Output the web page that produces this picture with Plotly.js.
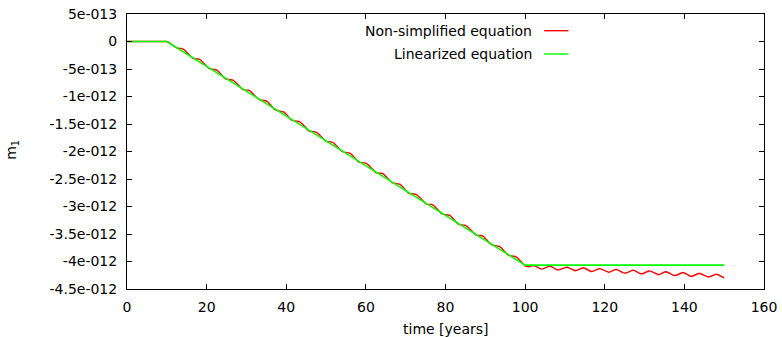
<!DOCTYPE html>
<html>
<head>
<meta charset="utf-8">
<script src="https://cdn.plot.ly/plotly-3.0.1.min.js"></script>
<style>html,body{margin:0;padding:0;background:#fff;}#chart{width:782px;height:337px;}</style>
</head>
<body>
<div id="chart"></div>
<script>
// values in units of 1e-12
const timeGrid = [0];
for (let i = 0; i <= 280; i++) timeGrid.push(10 + 0.5 * i);

const nonSimplified = [0,
 0.000,-0.015,-0.036,-0.068,-0.099,-0.120,-0.126,-0.126,-0.135,-0.158,
 -0.196,-0.240,-0.280,-0.305,-0.313,-0.314,-0.318,-0.336,-0.370,-0.413,
 -0.456,-0.486,-0.501,-0.503,-0.505,-0.517,-0.545,-0.586,-0.630,-0.666,
 -0.686,-0.692,-0.693,-0.699,-0.722,-0.759,-0.804,-0.844,-0.869,-0.880,
 -0.880,-0.884,-0.901,-0.933,-0.977,-1.019,-1.051,-1.066,-1.069,-1.071,
 -1.081,-1.109,-1.149,-1.193,-1.231,-1.251,-1.258,-1.258,-1.265,-1.285,
 -1.322,-1.367,-1.407,-1.435,-1.445,-1.447,-1.450,-1.465,-1.497,-1.539,
 -1.583,-1.615,-1.632,-1.636,-1.637,-1.647,-1.672,-1.712,-1.757,-1.794,
 -1.817,-1.824,-1.825,-1.830,-1.850,-1.886,-1.929,-1.971,-1.999,-2.012,
 -2.014,-2.016,-2.030,-2.059,-2.102,-2.145,-2.180,-2.198,-2.202,-2.203,
 -2.211,-2.236,-2.275,-2.319,-2.358,-2.382,-2.390,-2.391,-2.396,-2.414,
 -2.448,-2.492,-2.534,-2.564,-2.578,-2.580,-2.582,-2.594,-2.623,-2.664,
 -2.709,-2.744,-2.763,-2.769,-2.769,-2.777,-2.800,-2.838,-2.883,-2.921,
 -2.947,-2.956,-2.957,-2.962,-2.978,-3.012,-3.055,-3.098,-3.129,-3.143,
 -3.146,-3.147,-3.159,-3.186,-3.228,-3.272,-3.308,-3.329,-3.334,-3.335,
 -3.343,-3.364,-3.401,-3.445,-3.486,-3.511,-3.522,-3.524,-3.527,-3.543,
 -3.574,-3.618,-3.661,-3.693,-3.709,-3.712,-3.714,-3.724,-3.750,-3.791,
 -3.835,-3.872,-3.894,-3.901,-3.902,-3.908,-3.929,-3.966,-4.011,-4.053,
 -4.082,-4.094,-4.096,-4.078,-4.072,-4.081,-4.103,-4.126,-4.139,-4.134,
 -4.118,-4.098,-4.086,-4.090,-4.109,-4.133,-4.150,-4.152,-4.140,-4.119,
 -4.103,-4.102,-4.116,-4.138,-4.159,-4.168,-4.160,-4.141,-4.122,-4.115,
 -4.123,-4.144,-4.168,-4.181,-4.178,-4.163,-4.143,-4.131,-4.133,-4.150,
 -4.174,-4.192,-4.196,-4.184,-4.164,-4.147,-4.144,-4.157,-4.181,-4.201,
 -4.211,-4.205,-4.186,-4.167,-4.158,-4.166,-4.185,-4.209,-4.224,-4.222,
 -4.207,-4.187,-4.174,-4.175,-4.192,-4.216,-4.235,-4.239,-4.229,-4.209,
 -4.191,-4.187,-4.199,-4.222,-4.243,-4.254,-4.249,-4.231,-4.211,-4.201,
 -4.208,-4.227,-4.251,-4.267,-4.267,-4.252,-4.232,-4.218,-4.218,-4.233,
 -4.257,-4.277,-4.283,-4.273,-4.254,-4.236,-4.230,-4.241,-4.263,-4.285,
 -4.297];

const linYears = [0, 10, 100, 150];
const linearized = [0, 0, -4.065, -4.065];

const xTickVals = [0, 20, 40, 60, 80, 100, 120, 140, 160];
const yTickVals = [0.5, 0, -0.5, -1, -1.5, -2, -2.5, -3, -3.5, -4, -4.5];
const yTickText = ["5e-013", "0", "-5e-013", "-1e-012", "-1.5e-012", "-2e-012",
  "-2.5e-012", "-3e-012", "-3.5e-012", "-4e-012", "-4.5e-012"];

const seriesNames = ["Non-simplified equation", "Linearized equation"];
const seriesColors = ["#ff0000", "#00ff00"];

const FONT = {family: "DejaVu Sans", size: 14, color: "#000"};

const traces = [
  {x: timeGrid, y: nonSimplified, type: "scatter", mode: "lines", name: seriesNames[0],
   line: {color: seriesColors[0], width: 1.4}, showlegend: false, hoverinfo: "skip"},
  {x: linYears, y: linearized, type: "scatter", mode: "lines", name: seriesNames[1],
   line: {color: seriesColors[1], width: 1.6}, showlegend: false, hoverinfo: "skip"}
];

const axisCommon = {
  showline: true, linecolor: "#000", linewidth: 1, mirror: "ticks",
  ticks: "inside", ticklen: 5, tickcolor: "#000", tickwidth: 1,
  showgrid: false, zeroline: false, tickfont: FONT, fixedrange: true
};

// legend (gnuplot style: text right-aligned, sample to the right)
const legX1 = 0.638, legS0 = 0.6548, legS1 = 0.6929, legY = [0.9393, 0.8545];
const annotations = [
  {xref: "paper", yref: "paper", x: 0.5, y: -0.146, text: "time [years]",
   showarrow: false, xanchor: "center", yanchor: "middle", font: FONT},
  {xref: "paper", yref: "paper", x: -0.181, y: 0.505, text: "m<sub>1</sub>",
   showarrow: false, xanchor: "center", yanchor: "middle", textangle: -90, font: FONT}
];
const shapes = [];
seriesNames.forEach((n, i) => {
  annotations.push({xref: "paper", yref: "paper", x: legX1, y: legY[i], text: n,
    showarrow: false, xanchor: "right", yanchor: "middle", font: FONT, borderpad: 0});
  shapes.push({type: "line", xref: "paper", yref: "paper", x0: legS0, x1: legS1,
    y0: legY[i], y1: legY[i], line: {color: seriesColors[i], width: 1.4}});
});

const layout = {
  width: 782, height: 337,
  margin: {l: 127, r: 18, t: 14, b: 48, pad: 0},
  paper_bgcolor: "#fff", plot_bgcolor: "#fff",
  showlegend: false,
  xaxis: Object.assign({}, axisCommon, {range: [0, 160], tickmode: "array", tickvals: xTickVals,
    ticklabelstandoff: 5}),
  yaxis: Object.assign({}, axisCommon, {range: [-4.5, 0.5], tickmode: "array",
    tickvals: yTickVals, ticktext: yTickText, ticklabelstandoff: 6}),
  annotations: annotations,
  shapes: shapes
};

Plotly.newPlot("chart", traces, layout, {staticPlot: true, displayModeBar: false});
</script>
</body>
</html>
